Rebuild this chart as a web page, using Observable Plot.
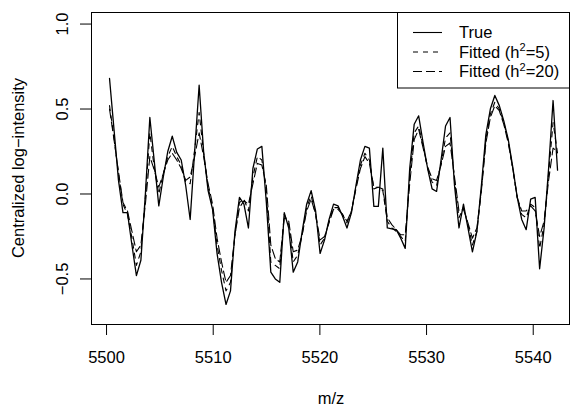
<!DOCTYPE html>
<html>
<head>
<meta charset="utf-8">
<script src="https://cdn.jsdelivr.net/npm/d3@7"></script>
<script src="https://cdn.jsdelivr.net/npm/@observablehq/plot@0.6"></script>
<style>
  html, body { margin: 0; padding: 0; background: white; }
  svg { display: block; }
</style>
</head>
<body>
<div id="chart"></div>
<script>
// m/z positions
const mz = [5500.28, 5500.70, 5501.12, 5501.54, 5501.96, 5502.38, 5502.80, 5503.22, 5503.64, 5504.06,
  5504.48, 5504.90, 5505.32, 5505.74, 5506.16, 5506.58, 5507.00, 5507.42, 5507.84, 5508.26,
  5508.68, 5509.10, 5509.52, 5509.94, 5510.36, 5510.78, 5511.20, 5511.62, 5512.04, 5512.46,
  5512.88, 5513.30, 5513.72, 5514.14, 5514.56, 5514.98, 5515.40, 5515.82, 5516.24, 5516.66,
  5517.08, 5517.50, 5517.92, 5518.34, 5518.76, 5519.18, 5519.60, 5520.02, 5520.44, 5520.86,
  5521.28, 5521.70, 5522.12, 5522.54, 5522.96, 5523.38, 5523.80, 5524.22, 5524.64, 5525.06,
  5525.48, 5525.90, 5526.32, 5526.74, 5527.16, 5527.58, 5528.00, 5528.42, 5528.84, 5529.26,
  5529.68, 5530.10, 5530.52, 5530.94, 5531.36, 5531.78, 5532.20, 5532.62, 5533.04, 5533.46,
  5533.88, 5534.30, 5534.72, 5535.14, 5535.56, 5535.98, 5536.40, 5536.82, 5537.24, 5537.66,
  5538.08, 5538.50, 5538.92, 5539.34, 5539.76, 5540.18, 5540.60, 5541.02, 5541.44, 5541.86,
  5542.28];

// True centralized log-intensity
const trueVals = [0.68, 0.38, 0.08, -0.11, -0.11, -0.30, -0.48, -0.39, 0.00, 0.45,
  0.19, -0.07, 0.10, 0.25, 0.34, 0.245, 0.20, 0.05, -0.15, 0.25,
  0.64, 0.25, 0.02, -0.09, -0.35, -0.52, -0.65, -0.57, -0.22, -0.02,
  -0.06, -0.20, 0.15, 0.265, 0.28, -0.05, -0.46, -0.50, -0.52, -0.11,
  -0.20, -0.46, -0.40, -0.22, -0.06, 0.02, -0.10, -0.35, -0.27, -0.15,
  -0.06, -0.07, -0.13, -0.20, -0.11, 0.05, 0.20, 0.28, 0.27, -0.073,
  -0.073, 0.27, -0.20, -0.205, -0.21, -0.26, -0.32, 0.15, 0.41, 0.46,
  0.30, 0.15, 0.03, 0.015, 0.20, 0.40, 0.45, 0.05, -0.20, -0.06,
  -0.20, -0.34, -0.22, 0.05, 0.35, 0.50, 0.58, 0.52, 0.43, 0.32,
  0.16, -0.02, -0.15, -0.21, -0.03, -0.02, -0.44, -0.20, 0.15, 0.55,
  0.14];

// Fitted (h^2 = 5)
const fit5 = [0.52, 0.33, 0.12, -0.06, -0.12, -0.26, -0.42, -0.34, -0.02, 0.36,
  0.15, 0.00, 0.12, 0.22, 0.28, 0.22, 0.17, 0.07, 0.06, 0.26,
  0.48, 0.24, 0.04, -0.08, -0.30, -0.45, -0.57, -0.52, -0.24, -0.05,
  -0.03, -0.10, 0.10, 0.22, 0.20, 0.02, -0.40, -0.42, -0.44, -0.12,
  -0.18, -0.40, -0.36, -0.24, -0.08, -0.01, -0.12, -0.30, -0.26, -0.16,
  -0.08, -0.08, -0.12, -0.17, -0.10, 0.04, 0.17, 0.24, 0.20, 0.03,
  0.04, 0.02, -0.16, -0.20, -0.22, -0.25, -0.28, 0.10, 0.36, 0.40,
  0.28, 0.15, 0.07, 0.05, 0.18, 0.33, 0.36, 0.08, -0.14, -0.08,
  -0.18, -0.30, -0.22, 0.03, 0.32, 0.47, 0.54, 0.50, 0.42, 0.31,
  0.15, -0.02, -0.12, -0.14, -0.06, -0.08, -0.32, -0.18, 0.12, 0.42,
  0.24];

// Fitted (h^2 = 20)
const fit20 = [0.50, 0.32, 0.13, -0.05, -0.10, -0.22, -0.34, -0.30, -0.06, 0.22,
  0.14, 0.04, 0.12, 0.20, 0.24, 0.20, 0.15, 0.08, 0.10, 0.22,
  0.36, 0.22, 0.06, -0.06, -0.26, -0.40, -0.52, -0.48, -0.24, -0.08,
  -0.04, -0.06, 0.06, 0.18, 0.17, 0.05, -0.30, -0.38, -0.40, -0.14,
  -0.16, -0.34, -0.33, -0.24, -0.10, -0.03, -0.12, -0.27, -0.25, -0.17,
  -0.09, -0.09, -0.12, -0.16, -0.10, 0.03, 0.15, 0.22, 0.18, 0.04,
  0.04, 0.03, -0.14, -0.18, -0.21, -0.24, -0.24, 0.06, 0.32, 0.38,
  0.27, 0.16, 0.09, 0.08, 0.17, 0.28, 0.30, 0.10, -0.10, -0.09,
  -0.17, -0.26, -0.20, 0.02, 0.30, 0.45, 0.52, 0.49, 0.41, 0.30,
  0.15, -0.02, -0.10, -0.10, -0.07, -0.10, -0.25, -0.16, 0.08, 0.27,
  0.25];

const xTicks = [5500, 5510, 5520, 5530, 5540];
const yTicks = [-0.5, 0.0, 0.5, 1.0];
const seriesNames = ["True", "Fitted (h2=5)", "Fitted (h2=20)"];

const rows = mz.map((m, i) => ({mz: m, t: trueVals[i], f5: fit5[i], f20: fit20[i]}));

const font = "'Liberation Sans', Arial, Helvetica, sans-serif";
const fs = 16.5;

const chart = Plot.plot({
  width: 572,
  height: 406,
  marginLeft: 91,
  marginRight: 3,
  marginTop: 12,
  marginBottom: 82,
  style: {fontFamily: font, fontSize: fs + "px", background: "white", color: "black"},
  x: {domain: [5498.59, 5543.4], label: null},
  y: {domain: [-0.768, 1.068], label: null},
  marks: [
    Plot.axisX({ticks: xTicks, tickSize: 11, tickPadding: 16, tickFormat: d => String(d), fontSize: fs, label: null, stroke: "black", fill: "black"}),
    Plot.axisY({ticks: yTicks, tickSize: 11, tickRotate: -90, tickPadding: 13, tickFormat: d => d.toFixed(1).replace("-", "\u2212"), fontSize: fs, label: null, stroke: "black", fill: "black"}),
    Plot.line(rows, {x: "mz", y: "f20", stroke: "black", strokeWidth: 1.1, strokeDasharray: "9,4"}),
    Plot.line(rows, {x: "mz", y: "f5", stroke: "black", strokeWidth: 1.1, strokeDasharray: "5,5"}),
    Plot.line(rows, {x: "mz", y: "t", stroke: "black", strokeWidth: 1.3}),
    Plot.frame({stroke: "black", strokeWidth: 1})
  ]
});

const svg = d3.select(chart);
// axis titles
svg.append("text")
  .attr("x", 331).attr("y", 398).attr("dy", "0.35em")
  .attr("text-anchor", "middle").attr("font-family", font).attr("font-size", fs)
  .attr("fill", "black")
  .text("m/z");
svg.append("text")
  .attr("transform", "translate(18,168) rotate(-90)")
  .attr("dy", "0.35em")
  .attr("text-anchor", "middle").attr("font-family", font).attr("font-size", fs)
  .attr("fill", "black")
  .text("Centralized log\u2212intensity");

// legend
const lg = svg.append("g");
lg.append("rect").attr("x", 397.5).attr("y", 12.5).attr("width", 172).attr("height", 75.5)
  .attr("fill", "white").attr("stroke", "black");
const dashes = [null, "5,5", "9,4"];
const rowY = [32.5, 52, 71.5];
seriesNames.forEach((name, i) => {
  lg.append("line").attr("x1", 413).attr("x2", 442).attr("y1", rowY[i]).attr("y2", rowY[i])
    .attr("stroke", "black").attr("stroke-width", 1.1)
    .attr("stroke-dasharray", dashes[i]);
  const t = lg.append("text").attr("x", 459).attr("y", rowY[i]).attr("dy", "0.35em")
    .attr("text-anchor", "start")
    .attr("font-family", font).attr("font-size", fs).attr("fill", "black");
  if (name.includes("h2")) {
    const [pre, post] = name.split("h2");
    t.append("tspan").text(pre + "h");
    t.append("tspan").attr("font-size", 11).attr("dy", "-0.6em").text("2");
    t.append("tspan").attr("dy", "0.4em").text(post);
  } else {
    t.text(name);
  }
});

document.getElementById("chart").appendChild(chart);
</script>
</body>
</html>
